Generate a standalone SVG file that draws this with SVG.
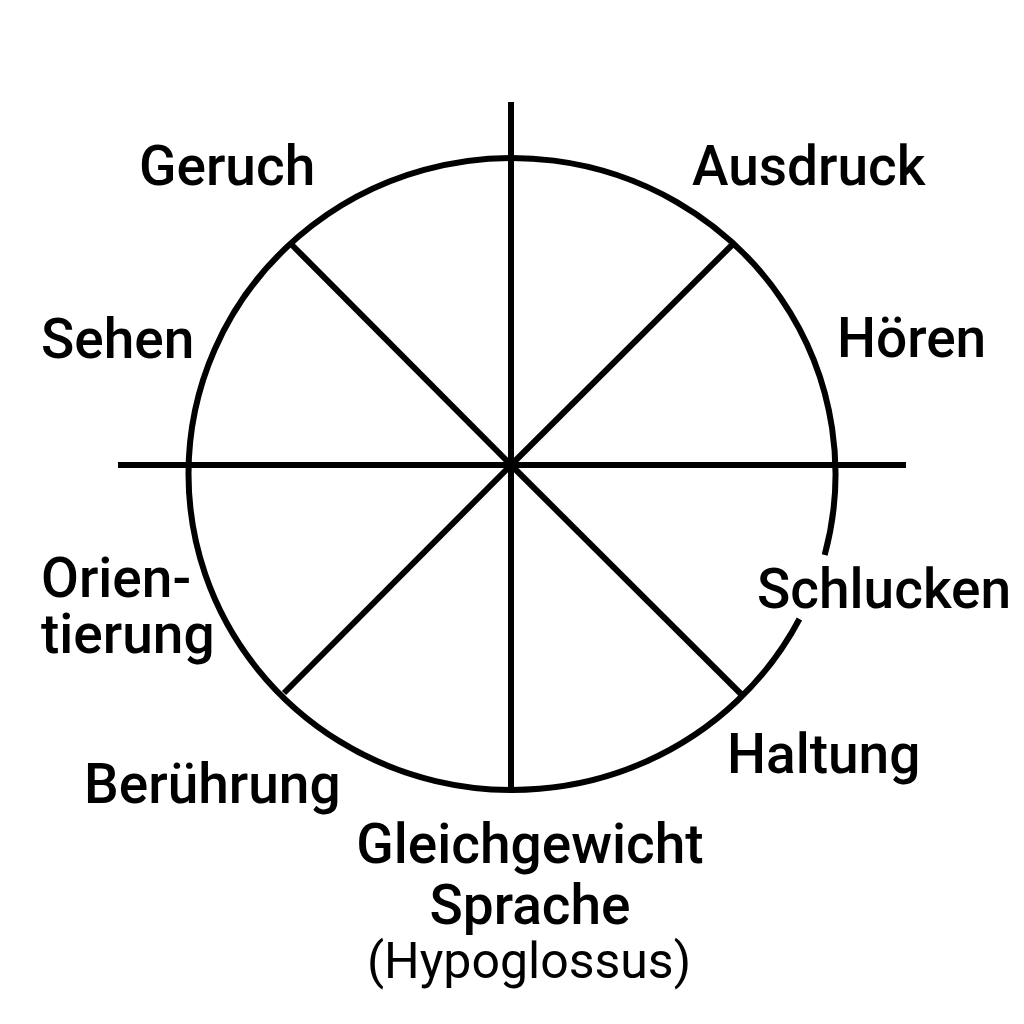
<svg xmlns="http://www.w3.org/2000/svg" width="1024" height="1024" viewBox="0 0 1024 1024">
<style>
.ln{stroke:#000;stroke-width:6;fill:none;stroke-linecap:butt}
.lb{font-family:Roboto,"Liberation Sans",sans-serif;font-weight:500;font-size:55px;fill:#000}
.lr{font-family:Roboto,"Liberation Sans",sans-serif;font-weight:400;font-size:50px;fill:#000}
</style>
<rect width="1024" height="1024" fill="#fff"/>
<g id="wheel">
<path class="ln" d="M 824.69 555 A 323.5 316 0 1 0 188.5 474 A 323.5 316 0 0 0 799.43 619"/>
</g>
<g id="connectors">
<line class="ln" x1="511" y1="102" x2="511" y2="790"/>
<line class="ln" x1="118" y1="465" x2="906" y2="465"/>
<line class="ln" x1="511" y1="465" x2="291" y2="244"/>
<line class="ln" x1="511" y1="465" x2="734" y2="243"/>
<line class="ln" x1="511" y1="465" x2="284" y2="693"/>
<line class="ln" x1="511" y1="465" x2="742" y2="695"/>
</g>
<g id="geruch"><text class="lb" x="139" y="185">Geruch</text></g>
<g id="ausdruck"><text class="lb" x="692" y="185">Ausdruck</text></g>
<g id="sehen"><text class="lb" x="41" y="358">Sehen</text></g>
<g id="hoeren"><text class="lb" x="837" y="357">Hören</text></g>
<g id="orientierung"><text class="lb" x="41" y="597">Orien-<tspan x="41" y="653">tierung</tspan></text></g>
<g id="schlucken"><text class="lb" x="757" y="608">Schlucken</text></g>
<g id="haltung"><text class="lb" x="727" y="773">Haltung</text></g>
<g id="beruehrung"><text class="lb" x="84" y="803">Berührung</text></g>
<g id="gleichgewicht"><text class="lb" x="530" y="863" text-anchor="middle">Gleichgewicht<tspan x="530" y="924">Sprache</tspan></text><text class="lr" x="529" y="978" text-anchor="middle">(Hypoglossus)</text></g>
</svg>
